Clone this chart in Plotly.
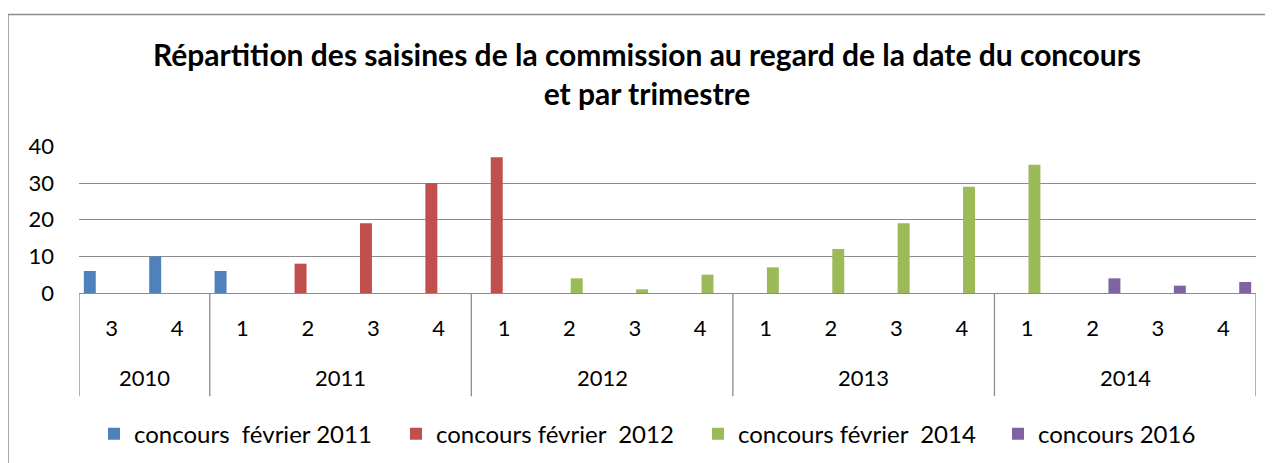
import plotly.graph_objects as go

# ---- data ----
cat_years = ["2010", "2010",
             "2011", "2011", "2011", "2011",
             "2012", "2012", "2012", "2012",
             "2013", "2013", "2013", "2013",
             "2014", "2014", "2014", "2014"]
cat_quarters = ["3", "4",
                "1", "2", "3", "4",
                "1", "2", "3", "4",
                "1", "2", "3", "4",
                "1", "2", "3", "4"]

s_2011 = [6, 10, 6, None, None, None, None, None, None, None, None, None, None, None, None, None, None, None]
s_2012 = [None, None, None, 8, 19, 30, 37, None, None, None, None, None, None, None, None, None, None, None]
s_2014 = [None, None, None, None, None, None, None, 4, 1, 5, 7, 12, 19, 29, 35, None, None, None]
s_2016 = [None, None, None, None, None, None, None, None, None, None, None, None, None, None, None, 4, 2, 3]

series_names = ["concours  février 2011", "concours février  2012",
                "concours février  2014", "concours 2016"]
series_values = [s_2011, s_2012, s_2014, s_2016]
series_colors = ["#4F81BD", "#C0504D", "#9BBB59", "#8064A2"]

y_ticks = [0, 10, 20, 30, 40]

title_text = ("Répartition des saisines de la commission au regard de la date du concours"
              "<br>et par trimestre")

# ---- geometry (page pixels; the page body has an 8px margin) ----
PAGE_W, PAGE_H = 1273, 463
OFF = 8
W, H = PAGE_W - OFF, PAGE_H - OFF
L, R = 79, 1256
ZERO_PX, FORTY_PX = 292.7, 146.0
Y_MAX = 40.1
unit = (ZERO_PX - FORTY_PX) / 40.0
TOP = ZERO_PX - Y_MAX * unit
BOT = ZERO_PX
plot_h = BOT - TOP
plot_w = R - L


def py(ypix):
    return (BOT - ypix) / plot_h


def px(xpix):
    return (xpix - L) / plot_w


FONT = "Lato, 'Open Sans', sans-serif"
GRID = "#8c8c8c"
AX_SIZE = 22
LEG_SIZE = 24

x_idx = list(range(len(cat_quarters)))

legend_ids = ["legend", "legend2", "legend3", "legend4"]
legend_x_px = [94, 396, 698, 998]

fig = go.Figure()
for name, vals, col, lid in zip(series_names, series_values, series_colors, legend_ids):
    fig.add_trace(go.Bar(x=x_idx, y=vals, name=name, legend=lid, showlegend=True,
                         marker=dict(color=col, line=dict(width=0))))

# year group annotations and dividers
groups = []
for i, yv in enumerate(cat_years):
    if not groups or groups[-1][0] != yv:
        groups.append([yv, i, i])
    else:
        groups[-1][2] = i

shapes = []
annotations = []
for yv, a, b in groups:
    annotations.append(dict(x=(a + b) / 2, y=py(377), xref="x", yref="paper",
                            text=yv, showarrow=False, yanchor="middle",
                            font=dict(size=AX_SIZE, color="#000", family=FONT)))
    shapes.append(dict(type="line", xref="x", yref="paper", x0=a - 0.5, x1=a - 0.5,
                       y0=0, y1=py(396), line=dict(color=GRID, width=1.3)))
shapes.append(dict(type="line", xref="x", yref="paper", x0=len(cat_years) - 0.5,
                   x1=len(cat_years) - 0.5, y0=0, y1=py(396), line=dict(color=GRID, width=1.3)))
# outer chart border
shapes.append(dict(type="rect", xref="paper", yref="paper", x0=px(8), x1=px(1300),
                   y0=py(500), y1=py(14), line=dict(color="#8c8c8c", width=1.5),
                   fillcolor="rgba(0,0,0,0)", layer="below"))

legend_common = dict(orientation="h", xanchor="left", y=py(434), yanchor="middle",
                     font=dict(size=LEG_SIZE, family=FONT, color="#000"),
                     bgcolor="rgba(0,0,0,0)")

fig.update_layout(
    width=W, height=H,
    margin=dict(l=L - OFF, r=PAGE_W - R, t=TOP - OFF, b=PAGE_H - BOT, autoexpand=False),
    paper_bgcolor="white", plot_bgcolor="white",
    showlegend=True,
    barmode="group", bargap=0.107, bargroupgap=0.18,
    title=dict(text=title_text, xref="container", yref="container",
               x=(647 - OFF) / W, xanchor="center", y=1 - 58 / H, yanchor="top",
               font=dict(family=FONT, size=30, color="#000", weight="bold")),
    font=dict(family=FONT, size=AX_SIZE, color="#000"),
    xaxis=dict(range=[-0.5, len(cat_quarters) - 0.5], tickmode="array",
               tickvals=x_idx, ticktext=cat_quarters, showgrid=False,
               showline=True, linecolor=GRID, linewidth=1.3, ticks="",
               ticklabelstandoff=15, tickfont=dict(size=AX_SIZE, family=FONT), zeroline=False),
    yaxis=dict(range=[0, Y_MAX], tickmode="array", tickvals=y_ticks, showgrid=True,
               gridcolor=GRID, gridwidth=1.3, zeroline=False, showline=False,
               ticks="", ticklabelstandoff=24, tickfont=dict(size=AX_SIZE, family=FONT)),
    shapes=shapes, annotations=annotations,
)
for lid, lx in zip(legend_ids, legend_x_px):
    fig.update_layout({lid: dict(legend_common, x=px(lx))})

fig.write_html("out.html")
